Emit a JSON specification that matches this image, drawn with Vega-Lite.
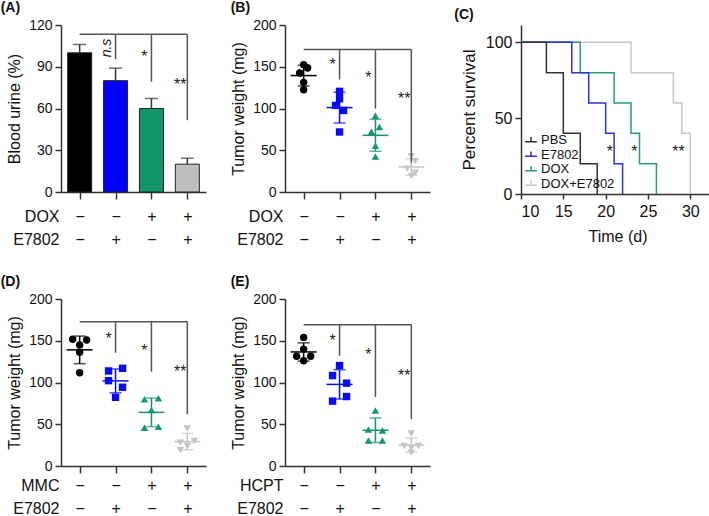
{
  "$schema": "https://vega.github.io/schema/vega-lite/v6.json",
  "padding": {"left": 0, "top": 1, "right": 0, "bottom": 0},
  "background": "white",
  "config": {
    "font": "Liberation Sans",
    "view": {"stroke": null},
    "axis": {"grid": false, "domainColor": "#333", "domainWidth": 1.5, "tickColor": "#333", "tickWidth": 1.5, "tickSize": 6, "labelColor": "#111", "titleColor": "#111", "labelFontSize": 14, "titleFontSize": 16, "titleFontWeight": "normal", "labelPadding": 3, "titlePadding": 6},
    "title": {"anchor": "start", "frame": "bounds", "fontSize": 14, "fontWeight": "bold", "offset": 3, "color": "#111"}
  },
  "spacing": {"column": 24, "row": 28},
  "columns": 3,
  "resolve": {"scale": {"color": "independent", "shape": "independent", "xOffset": "independent"}, "legend": {"color": "independent", "shape": "independent"}},
  "datasets": {
    "a_bars": [
      {"grp": "−|−", "value": 100, "upper": 106},
      {"grp": "−|+", "value": 80, "upper": 89},
      {"grp": "+|−", "value": 60, "upper": 67.2},
      {"grp": "+|+", "value": 20, "upper": 24.3}
    ],
    "a_br": [{"from": "−|−", "to": "+|+", "y": 113.3}],
    "a_sig": [
      {"grp": "−|+", "top": 113.3, "bottom": 95.3, "label": "n.s", "ly": 103.5},
      {"grp": "+|−", "top": 113.3, "bottom": 79.2, "label": "*", "ly": 99.7},
      {"grp": "+|+", "top": 113.3, "bottom": 51.6, "label": "**", "ly": 79.8}
    ],
    "b_pts": [
      {"grp": "−|−", "w": 152.4, "side": "C"}, {"grp": "−|−", "w": 148.5, "side": "R"}, {"grp": "−|−", "w": 142.5, "side": "L"}, {"grp": "−|−", "w": 131.3, "side": "C"}, {"grp": "−|−", "w": 122.5, "side": "C"},
      {"grp": "−|+", "w": 120.5, "side": "C"}, {"grp": "−|+", "w": 111.7, "side": "C"}, {"grp": "−|+", "w": 103.7, "side": "L"}, {"grp": "−|+", "w": 97.7, "side": "R"}, {"grp": "−|+", "w": 71.9, "side": "C"},
      {"grp": "+|−", "w": 91.3, "side": "C"}, {"grp": "+|−", "w": 77.8, "side": "R"}, {"grp": "+|−", "w": 72.2, "side": "L"}, {"grp": "+|−", "w": 55.4, "side": "C"}, {"grp": "+|−", "w": 42.6, "side": "C"},
      {"grp": "+|+", "w": 43, "side": "C"}, {"grp": "+|+", "w": 37, "side": "R"}, {"grp": "+|+", "w": 28, "side": "L"}, {"grp": "+|+", "w": 23, "side": "R"}, {"grp": "+|+", "w": 19, "side": "C"}
    ],
    "b_br": [{"from": "−|−", "to": "+|+", "y": 170.8}],
    "b_sig": [
      {"grp": "−|+", "top": 170.8, "bottom": 134.8, "label": "*", "ly": 156.4},
      {"grp": "+|−", "top": 170.8, "bottom": 100, "label": "*", "ly": 141.7},
      {"grp": "+|+", "top": 170.8, "bottom": 35.2, "label": "**", "ly": 116.5}
    ],
    "surv": [
      {"grp": "DOX+E7802", "t": 10, "s": 100}, {"grp": "DOX+E7802", "t": 23, "s": 80}, {"grp": "DOX+E7802", "t": 28, "s": 60}, {"grp": "DOX+E7802", "t": 29, "s": 40}, {"grp": "DOX+E7802", "t": 30, "s": 0},
      {"grp": "DOX", "t": 10, "s": 100}, {"grp": "DOX", "t": 17, "s": 80}, {"grp": "DOX", "t": 21, "s": 60}, {"grp": "DOX", "t": 23, "s": 40}, {"grp": "DOX", "t": 24, "s": 20}, {"grp": "DOX", "t": 26, "s": 0},
      {"grp": "E7802", "t": 10, "s": 100}, {"grp": "E7802", "t": 16, "s": 80}, {"grp": "E7802", "t": 18, "s": 60}, {"grp": "E7802", "t": 20, "s": 40}, {"grp": "E7802", "t": 21, "s": 20}, {"grp": "E7802", "t": 22, "s": 0},
      {"grp": "PBS", "t": 10, "s": 100}, {"grp": "PBS", "t": 13, "s": 80}, {"grp": "PBS", "t": 15, "s": 40}, {"grp": "PBS", "t": 17, "s": 20}, {"grp": "PBS", "t": 19, "s": 0}
    ],
    "c_sig": [
      {"t": 20.5, "s": 30.5, "label": "*"},
      {"t": 23.4, "s": 30.5, "label": "*"},
      {"t": 28.6, "s": 30.5, "label": "**"}
    ],
    "d_pts": [
      {"grp": "−|−", "w": 151.7, "side": "L"}, {"grp": "−|−", "w": 150.9, "side": "R"}, {"grp": "−|−", "w": 144.9, "side": "C"}, {"grp": "−|−", "w": 136.2, "side": "C"}, {"grp": "−|−", "w": 111.7, "side": "C"},
      {"grp": "−|+", "w": 117, "side": "R"}, {"grp": "−|+", "w": 113.8, "side": "L"}, {"grp": "−|+", "w": 102.2, "side": "L"}, {"grp": "−|+", "w": 94.3, "side": "R"}, {"grp": "−|+", "w": 82.3, "side": "C"},
      {"grp": "+|−", "w": 81.1, "side": "R"}, {"grp": "+|−", "w": 79.9, "side": "L"}, {"grp": "+|−", "w": 67.1, "side": "C"}, {"grp": "+|−", "w": 47.1, "side": "R"}, {"grp": "+|−", "w": 45.9, "side": "L"},
      {"grp": "+|+", "w": 45, "side": "C"}, {"grp": "+|+", "w": 30, "side": "R"}, {"grp": "+|+", "w": 28, "side": "L"}, {"grp": "+|+", "w": 24, "side": "C"}, {"grp": "+|+", "w": 19, "side": "L"}
    ],
    "d_br": [{"from": "−|−", "to": "+|+", "y": 172.9}],
    "d_sig": [
      {"grp": "−|+", "top": 172.9, "bottom": 135.7, "label": "*", "ly": 157},
      {"grp": "+|−", "top": 172.9, "bottom": 113, "label": "*", "ly": 142},
      {"grp": "+|+", "top": 172.9, "bottom": 61.9, "label": "**", "ly": 117}
    ],
    "e_pts": [
      {"grp": "−|−", "w": 154, "side": "C"}, {"grp": "−|−", "w": 140, "side": "C"}, {"grp": "−|−", "w": 131.5, "side": "L"}, {"grp": "−|−", "w": 131.5, "side": "R"}, {"grp": "−|−", "w": 126, "side": "C"},
      {"grp": "−|+", "w": 120.3, "side": "C"}, {"grp": "−|+", "w": 108.3, "side": "L"}, {"grp": "−|+", "w": 99.2, "side": "R"}, {"grp": "−|+", "w": 83.2, "side": "R"}, {"grp": "−|+", "w": 77.7, "side": "L"},
      {"grp": "+|−", "w": 66.5, "side": "C"}, {"grp": "+|−", "w": 43.7, "side": "L"}, {"grp": "+|−", "w": 42.6, "side": "R"}, {"grp": "+|−", "w": 30.6, "side": "L"}, {"grp": "+|−", "w": 30.6, "side": "R"},
      {"grp": "+|+", "w": 39, "side": "C"}, {"grp": "+|+", "w": 24, "side": "L"}, {"grp": "+|+", "w": 24, "side": "R"}, {"grp": "+|+", "w": 22, "side": "C"}, {"grp": "+|+", "w": 16, "side": "C"}
    ],
    "e_br": [{"from": "−|−", "to": "+|+", "y": 169.3}],
    "e_sig": [
      {"grp": "−|+", "top": 169.3, "bottom": 132, "label": "*", "ly": 154},
      {"grp": "+|−", "top": 169.3, "bottom": 82.5, "label": "*", "ly": 138},
      {"grp": "+|+", "top": 169.3, "bottom": 56.2, "label": "**", "ly": 113}
    ]
  },
  "concat": [
    {
      "title": {"text": "(A)", "dx": -6},
      "width": 145, "height": 167,
      "layer": [
        {"data": {"name": "a_bars"}, "mark": {"type": "bar", "size": 24, "stroke": "#222", "strokeWidth": 1},
         "encoding": {
           "x": {"field": "grp", "type": "nominal", "scale": {"type": "point", "padding": 0.52, "domain": ["−|−", "−|+", "+|−", "+|+"]}, "axis": {"title": ["DOX", "E7802"], "labelExpr": "split(datum.label,'|')", "labelAngle": 0, "labelFontSize": 16, "labelLineHeight": 23, "labelPadding": 9, "tickSize": 7, "labelBaseline": "top", "titleAngle": 0, "titleAlign": "right", "titleBaseline": "top", "titleX": -2, "titleY": 16, "titleFontSize": 16, "titleLineHeight": 23, "labelOverlap": false}},
           "y": {"field": "value", "type": "quantitative", "scale": {"domain": [0, 120], "nice": false}, "axis": {"title": "Blood urine (%)", "values": [0, 30, 60, 90, 120]}},
           "color": {"field": "grp", "type": "nominal", "scale": {"domain": ["−|−", "−|+", "+|−", "+|+"], "range": ["#000000", "#0000ff", "#12956a", "#bebebe"]}, "legend": null}
         }},
        {"data": {"name": "a_bars"}, "mark": {"type": "rule", "color": "#333", "strokeWidth": 1.5},
         "encoding": {"x": {"field": "grp", "type": "nominal"}, "y": {"field": "value", "type": "quantitative"}, "y2": {"field": "upper"}}},
        {"data": {"name": "a_bars"}, "mark": {"type": "tick", "color": "#333", "size": 13, "thickness": 1.5, "orient": "horizontal"},
         "encoding": {"x": {"field": "grp", "type": "nominal"}, "y": {"field": "upper", "type": "quantitative"}}},
        {"data": {"name": "a_br"}, "mark": {"type": "rule", "color": "#555", "strokeWidth": 1.5},
         "encoding": {"x": {"field": "from", "type": "nominal"}, "x2": {"field": "to"}, "y": {"field": "y", "type": "quantitative"}}},
        {"data": {"name": "a_sig"}, "mark": {"type": "rule", "color": "#555", "strokeWidth": 1.5},
         "encoding": {"x": {"field": "grp", "type": "nominal"}, "y": {"field": "top", "type": "quantitative"}, "y2": {"field": "bottom"}}},
        {"data": {"name": "a_sig"}, "transform": [{"filter": "datum.label != 'n.s'"}], "mark": {"type": "text", "fontSize": 16, "dx": -7, "dy": 4, "baseline": "middle", "color": "#222"},
         "encoding": {"x": {"field": "grp", "type": "nominal"}, "y": {"field": "ly", "type": "quantitative"}, "text": {"field": "label"}}},
        {"data": {"name": "a_sig"}, "transform": [{"filter": "datum.label == 'n.s'"}], "mark": {"type": "text", "fontSize": 14, "fontStyle": "italic", "angle": 270, "dx": 0, "dy": -9, "baseline": "middle", "align": "center", "color": "#222"},
         "encoding": {"x": {"field": "grp", "type": "nominal"}, "y": {"field": "ly", "type": "quantitative"}, "text": {"field": "label"}}}
      ]
    },
    {
      "title": {"text": "(B)"},
      "width": 145, "height": 167,
      "layer": [
        {"data": {"name": "b_pts"}, "mark": {"type": "errorbar", "extent": "stdev", "thickness": 1.5, "ticks": {"size": 12, "thickness": 1.5}},
         "encoding": {
           "x": {"field": "grp", "type": "nominal", "scale": {"type": "point", "padding": 0.52, "domain": ["−|−", "−|+", "+|−", "+|+"]}, "axis": {"title": ["DOX", "E7802"], "labelExpr": "split(datum.label,'|')", "labelAngle": 0, "labelFontSize": 16, "labelLineHeight": 23, "labelPadding": 9, "tickSize": 7, "labelBaseline": "top", "titleAngle": 0, "titleAlign": "right", "titleBaseline": "top", "titleX": -2, "titleY": 16, "titleFontSize": 16, "titleLineHeight": 23, "labelOverlap": false}},
           "y": {"field": "w", "type": "quantitative", "scale": {"domain": [0, 200], "nice": false}, "axis": {"title": "Tumor weight (mg)", "values": [0, 50, 100, 150, 200]}},
           "color": {"field": "grp", "type": "nominal", "scale": {"domain": ["−|−", "−|+", "+|−", "+|+"], "range": ["#000000", "#0a0af0", "#14966a", "#c4c4c4"]}, "legend": null}
         }},
        {"data": {"name": "b_pts"}, "mark": {"type": "tick", "size": 26, "thickness": 1.5, "orient": "horizontal"},
         "encoding": {"x": {"field": "grp", "type": "nominal"}, "y": {"aggregate": "mean", "field": "w", "type": "quantitative"}, "color": {"field": "grp", "type": "nominal"}}},
        {"data": {"name": "b_pts"}, "mark": {"type": "point", "filled": true, "size": 55, "opacity": 1},
         "encoding": {"x": {"field": "grp", "type": "nominal"}, "xOffset": {"field": "side", "type": "nominal", "scale": {"type": "point", "domain": ["L", "C", "R"], "range": [-4, 4], "padding": 0}}, "y": {"field": "w", "type": "quantitative"}, "color": {"field": "grp", "type": "nominal"}, "shape": {"field": "grp", "type": "nominal", "scale": {"domain": ["−|−", "−|+", "+|−", "+|+"], "range": ["circle", "square", "triangle-up", "triangle-down"]}, "legend": null}}},
        {"data": {"name": "b_br"}, "mark": {"type": "rule", "color": "#555", "strokeWidth": 1.5},
         "encoding": {"x": {"field": "from", "type": "nominal"}, "x2": {"field": "to"}, "y": {"field": "y", "type": "quantitative"}}},
        {"data": {"name": "b_sig"}, "mark": {"type": "rule", "color": "#555", "strokeWidth": 1.5},
         "encoding": {"x": {"field": "grp", "type": "nominal"}, "y": {"field": "top", "type": "quantitative"}, "y2": {"field": "bottom"}}},
        {"data": {"name": "b_sig"}, "mark": {"type": "text", "fontSize": 16, "dx": -7, "dy": 4, "baseline": "middle", "color": "#222"},
         "encoding": {"x": {"field": "grp", "type": "nominal"}, "y": {"field": "ly", "type": "quantitative"}, "text": {"field": "label"}}}
      ]
    },
    {
      "title": {"text": "(C)", "dx": -6},
      "width": 193, "height": 169,
      "layer": [
        {"data": {"name": "surv"}, "transform": [{"filter": "datum.grp == 'DOX+E7802'"}], "mark": {"type": "line", "interpolate": "step-after", "strokeWidth": 1.5},
         "encoding": {
           "x": {"field": "t", "type": "quantitative", "scale": {"domain": [10, 32.8], "nice": false, "zero": false}, "axis": {"title": "Time (d)", "values": [10, 15, 20, 25, 30], "labelFontSize": 16, "titleFontSize": 16, "tickSize": 5, "labelPadding": 4, "titlePadding": 9}},
           "y": {"field": "s", "type": "quantitative", "scale": {"domain": [0, 111.4], "nice": false}, "axis": {"title": "Percent survival", "values": [0, 50, 100], "labelFontSize": 16, "titleFontSize": 17, "tickSize": 6, "titlePadding": 7}},
           "color": {"field": "grp", "type": "nominal", "scale": {"domain": ["PBS", "E7802", "DOX", "DOX+E7802"], "range": ["#333333", "#3030d0", "#2a9d74", "#c8c8c8"]},
             "legend": {"title": null, "orient": "bottom-left", "offset": 3, "padding": 0, "labelFontSize": 13, "labelColor": "#111", "symbolType": "M-1,0.3H1M0,0.3V-0.5", "symbolSize": 140, "symbolStrokeWidth": 1.5, "rowPadding": 0.5, "labelOffset": 3}}
         }},
        {"data": {"name": "surv"}, "transform": [{"filter": "datum.grp == 'DOX'"}], "mark": {"type": "line", "interpolate": "step-after", "strokeWidth": 1.5},
         "encoding": {"x": {"field": "t", "type": "quantitative"}, "y": {"field": "s", "type": "quantitative"}, "color": {"field": "grp", "type": "nominal"}}},
        {"data": {"name": "surv"}, "transform": [{"filter": "datum.grp == 'E7802'"}], "mark": {"type": "line", "interpolate": "step-after", "strokeWidth": 1.5},
         "encoding": {"x": {"field": "t", "type": "quantitative"}, "y": {"field": "s", "type": "quantitative"}, "color": {"field": "grp", "type": "nominal"}}},
        {"data": {"name": "surv"}, "transform": [{"filter": "datum.grp == 'PBS'"}], "mark": {"type": "line", "interpolate": "step-after", "strokeWidth": 1.5},
         "encoding": {"x": {"field": "t", "type": "quantitative"}, "y": {"field": "s", "type": "quantitative"}, "color": {"field": "grp", "type": "nominal"}}},
        {"data": {"name": "c_sig"}, "mark": {"type": "text", "fontSize": 16, "dy": 4, "baseline": "middle", "color": "#222"},
         "encoding": {"x": {"field": "t", "type": "quantitative"}, "y": {"field": "s", "type": "quantitative"}, "text": {"field": "label"}}}
      ]
    },
    {
      "title": {"text": "(D)", "dx": -6},
      "width": 145, "height": 167,
      "layer": [
        {"data": {"name": "d_pts"}, "mark": {"type": "errorbar", "extent": "stdev", "thickness": 1.5, "ticks": {"size": 12, "thickness": 1.5}},
         "encoding": {
           "x": {"field": "grp", "type": "nominal", "scale": {"type": "point", "padding": 0.52, "domain": ["−|−", "−|+", "+|−", "+|+"]}, "axis": {"title": ["MMC", "E7802"], "labelExpr": "split(datum.label,'|')", "labelAngle": 0, "labelFontSize": 16, "labelLineHeight": 23, "labelPadding": 4, "tickSize": 7, "labelBaseline": "top", "titleAngle": 0, "titleAlign": "right", "titleBaseline": "top", "titleX": -2, "titleY": 11, "titleFontSize": 16, "titleLineHeight": 23, "labelOverlap": false}},
           "y": {"field": "w", "type": "quantitative", "scale": {"domain": [0, 200], "nice": false}, "axis": {"title": "Tumor weight (mg)", "values": [0, 50, 100, 150, 200]}},
           "color": {"field": "grp", "type": "nominal", "scale": {"domain": ["−|−", "−|+", "+|−", "+|+"], "range": ["#000000", "#0a0af0", "#14966a", "#c4c4c4"]}, "legend": null}
         }},
        {"data": {"name": "d_pts"}, "mark": {"type": "tick", "size": 26, "thickness": 1.5, "orient": "horizontal"},
         "encoding": {"x": {"field": "grp", "type": "nominal"}, "y": {"aggregate": "mean", "field": "w", "type": "quantitative"}, "color": {"field": "grp", "type": "nominal"}}},
        {"data": {"name": "d_pts"}, "mark": {"type": "point", "filled": true, "size": 55, "opacity": 1},
         "encoding": {"x": {"field": "grp", "type": "nominal"}, "xOffset": {"field": "side", "type": "nominal", "scale": {"type": "point", "domain": ["L", "C", "R"], "range": [-7, 7], "padding": 0}}, "y": {"field": "w", "type": "quantitative"}, "color": {"field": "grp", "type": "nominal"}, "shape": {"field": "grp", "type": "nominal", "scale": {"domain": ["−|−", "−|+", "+|−", "+|+"], "range": ["circle", "square", "triangle-up", "triangle-down"]}, "legend": null}}},
        {"data": {"name": "d_br"}, "mark": {"type": "rule", "color": "#555", "strokeWidth": 1.5},
         "encoding": {"x": {"field": "from", "type": "nominal"}, "x2": {"field": "to"}, "y": {"field": "y", "type": "quantitative"}}},
        {"data": {"name": "d_sig"}, "mark": {"type": "rule", "color": "#555", "strokeWidth": 1.5},
         "encoding": {"x": {"field": "grp", "type": "nominal"}, "y": {"field": "top", "type": "quantitative"}, "y2": {"field": "bottom"}}},
        {"data": {"name": "d_sig"}, "mark": {"type": "text", "fontSize": 16, "dx": -7, "dy": 4, "baseline": "middle", "color": "#222"},
         "encoding": {"x": {"field": "grp", "type": "nominal"}, "y": {"field": "ly", "type": "quantitative"}, "text": {"field": "label"}}}
      ]
    },
    {
      "title": {"text": "(E)"},
      "width": 145, "height": 167,
      "layer": [
        {"data": {"name": "e_pts"}, "mark": {"type": "errorbar", "extent": "stdev", "thickness": 1.5, "ticks": {"size": 12, "thickness": 1.5}},
         "encoding": {
           "x": {"field": "grp", "type": "nominal", "scale": {"type": "point", "padding": 0.52, "domain": ["−|−", "−|+", "+|−", "+|+"]}, "axis": {"title": ["HCPT", "E7802"], "labelExpr": "split(datum.label,'|')", "labelAngle": 0, "labelFontSize": 16, "labelLineHeight": 23, "labelPadding": 4, "tickSize": 7, "labelBaseline": "top", "titleAngle": 0, "titleAlign": "right", "titleBaseline": "top", "titleX": -2, "titleY": 11, "titleFontSize": 16, "titleLineHeight": 23, "labelOverlap": false}},
           "y": {"field": "w", "type": "quantitative", "scale": {"domain": [0, 200], "nice": false}, "axis": {"title": "Tumor weight (mg)", "values": [0, 50, 100, 150, 200]}},
           "color": {"field": "grp", "type": "nominal", "scale": {"domain": ["−|−", "−|+", "+|−", "+|+"], "range": ["#000000", "#0a0af0", "#14966a", "#c4c4c4"]}, "legend": null}
         }},
        {"data": {"name": "e_pts"}, "mark": {"type": "tick", "size": 26, "thickness": 1.5, "orient": "horizontal"},
         "encoding": {"x": {"field": "grp", "type": "nominal"}, "y": {"aggregate": "mean", "field": "w", "type": "quantitative"}, "color": {"field": "grp", "type": "nominal"}}},
        {"data": {"name": "e_pts"}, "mark": {"type": "point", "filled": true, "size": 55, "opacity": 1},
         "encoding": {"x": {"field": "grp", "type": "nominal"}, "xOffset": {"field": "side", "type": "nominal", "scale": {"type": "point", "domain": ["L", "C", "R"], "range": [-7, 7], "padding": 0}}, "y": {"field": "w", "type": "quantitative"}, "color": {"field": "grp", "type": "nominal"}, "shape": {"field": "grp", "type": "nominal", "scale": {"domain": ["−|−", "−|+", "+|−", "+|+"], "range": ["circle", "square", "triangle-up", "triangle-down"]}, "legend": null}}},
        {"data": {"name": "e_br"}, "mark": {"type": "rule", "color": "#555", "strokeWidth": 1.5},
         "encoding": {"x": {"field": "from", "type": "nominal"}, "x2": {"field": "to"}, "y": {"field": "y", "type": "quantitative"}}},
        {"data": {"name": "e_sig"}, "mark": {"type": "rule", "color": "#555", "strokeWidth": 1.5},
         "encoding": {"x": {"field": "grp", "type": "nominal"}, "y": {"field": "top", "type": "quantitative"}, "y2": {"field": "bottom"}}},
        {"data": {"name": "e_sig"}, "mark": {"type": "text", "fontSize": 16, "dx": -7, "dy": 4, "baseline": "middle", "color": "#222"},
         "encoding": {"x": {"field": "grp", "type": "nominal"}, "y": {"field": "ly", "type": "quantitative"}, "text": {"field": "label"}}}
      ]
    }
  ]
}
